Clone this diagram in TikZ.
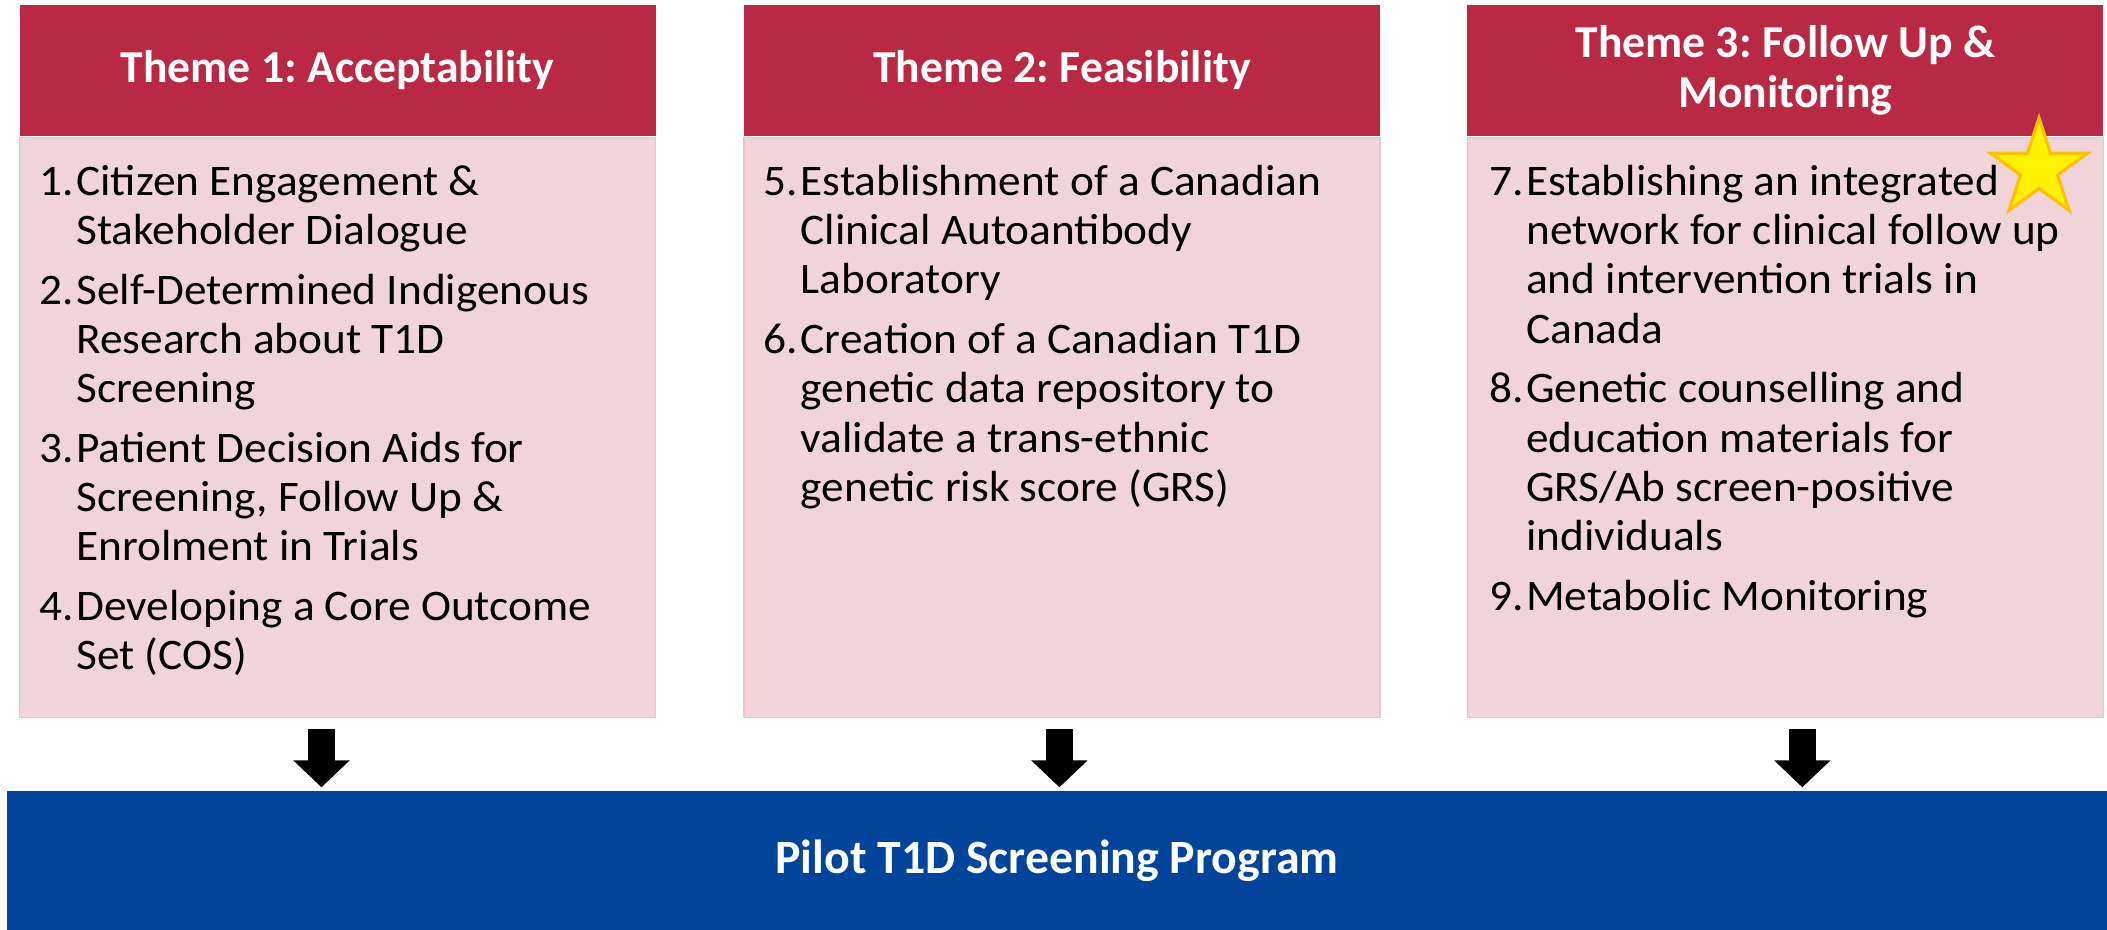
\documentclass[tikz,border=0pt]{standalone}
\usepackage{fontspec}
\setmainfont{Carlito}
\newfontfamily\listfont[FakeStretch=1.04]{Carlito}
\usetikzlibrary{positioning,arrows.meta,shapes.geometric}

\definecolor{themered}{RGB}{185,41,67}
\definecolor{themepink}{RGB}{241,212,218}
\definecolor{pinkline}{RGB}{233,196,204}
\definecolor{pilotblue}{RGB}{0,68,155}
\definecolor{stargold}{RGB}{255,192,0}

% numbered list with a hanging number column
\newcommand{\itemlist}[1]{\begin{tabular}{@{}p{10.5pt}@{}l@{}}#1\end{tabular}}

\begin{document}
\frenchspacing
\begin{tikzpicture}[
    head/.style={rectangle,fill=themered,text=white,align=center,
		minimum width=6.36cm,minimum height=1.31cm,inner sep=0pt,
		font=\fontsize{13}{14.4}\selectfont\bfseries},
    panel/.style={rectangle,fill=themepink,draw=pinkline,line width=0.4pt,
		minimum width=6.36cm,minimum height=5.8cm,inner sep=0pt,anchor=north},
    items/.style={anchor=north west,inner sep=0pt,
		font=\listfont\fontsize{12.4}{14}\selectfont},
    down/.style={line width=2.7mm,-{Triangle[length=2.7mm,width=5.5mm]},
		shorten <=1.1mm,shorten >=0.3mm},
    program/.style={rectangle,fill=pilotblue,text=white,
		minimum width=21cm,minimum height=1.39cm,inner sep=0pt,
		font=\fontsize{13.6}{16}\selectfont\bfseries}
    ]
    \useasboundingbox (0,0) rectangle (21.07,-9.30);

    % Theme headers
    \node [head] (h1) at (3.375,-0.705) {Theme 1: Acceptability};
    \node [head, right=0.87cm of h1] (h2) {Theme 2: Feasibility};
    \node [head, right=0.86cm of h2] (h3) {Theme 3: Follow Up \&\\Monitoring};

    % Panels under the headers
    \node [panel, below=0pt of h1] (p1) {};
    \node [panel, below=0pt of h2] (p2) {};
    \node [panel, below=0pt of h3] (p3) {};

    % Lists
    \node [items] (l1) at ([xshift=2mm,yshift=-2.36mm]p1.north west) {\itemlist{
      1. & Citizen Engagement \&\\
         & Stakeholder Dialogue\\[3pt]
      2. & Self-Determined Indigenous\\
         & Research about T1D\\
         & Screening\\[3pt]
      3. & Patient Decision Aids for\\
         & Screening, Follow Up \&\\
         & Enrolment in Trials\\[3pt]
      4. & Developing a Core Outcome\\
         & Set (COS)}};
    \node [items] (l2) at ([xshift=2mm,yshift=-2.36mm]p2.north west) {\itemlist{
      5. & Establishment of a Canadian\\
         & Clinical Autoantibody\\
         & Laboratory\\[3pt]
      6. & Creation of a Canadian T1D\\
         & genetic data repository to\\
         & validate a trans-ethnic\\
         & genetic risk score (GRS)}};
    \node [items] (l3) at ([xshift=2.2mm,yshift=-2.36mm]p3.north west) {\itemlist{
      7. & Establishing an integrated\\
         & network for clinical follow up\\
         & and intervention trials in\\
         & Canada\\[3pt]
      8. & Genetic counselling and\\
         & education materials for\\
         & GRS/Ab screen-positive\\
         & individuals\\[3pt]
      9. & Metabolic Monitoring}};

    \node [star, star points=5, star point ratio=2.618, fill=yellow,
      draw=stargold, line width=0.9pt, minimum size=1.02cm,
      inner sep=0pt] (highlight) at (20.39,-1.69) {};

    % Program bar
    \node [program] (pilot) at (10.57,-8.605) {Pilot T1D Screening Program};

    % Draw edges
    \draw [down] ([xshift=-1.6mm]p1.south) -- ([xshift=-1.6mm]p1.south |- pilot.north);
    \draw [down] ([xshift=-0.25mm]p2.south) -- ([xshift=-0.25mm]p2.south |- pilot.north);
    \draw [down] ([xshift=1.7mm]p3.south) -- ([xshift=1.7mm]p3.south |- pilot.north);
\end{tikzpicture}
\end{document}
